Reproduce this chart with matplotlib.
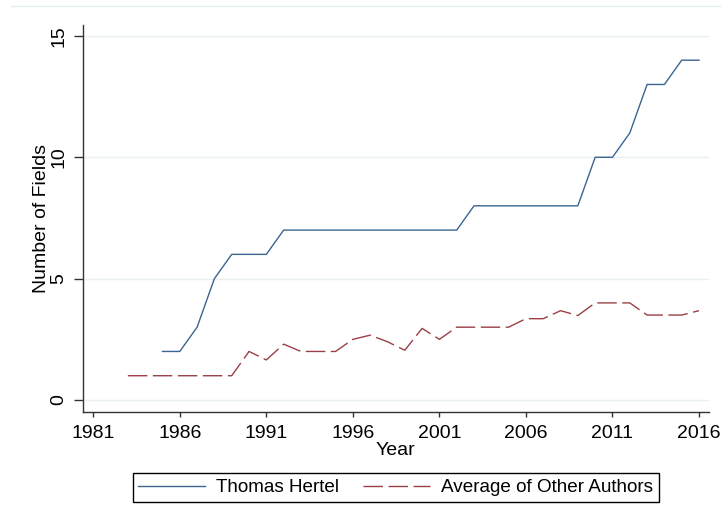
import matplotlib
matplotlib.use("Agg")
import matplotlib.pyplot as plt
from matplotlib.lines import Line2D

# data
hertel_years = list(range(1985, 2017))
hertel_fields = [2, 2, 3, 5, 6, 6, 6, 7, 7, 7, 7, 7, 7, 7, 7, 7, 7, 7,
                 8, 8, 8, 8, 8, 8, 8, 10, 10, 11, 13, 13, 14, 14]

others_years = list(range(1983, 2017))
others_fields = [1, 1, 1, 1, 1, 1, 1, 2.0, 1.65, 2.3, 2.0, 2.0, 2.0, 2.5,
                 2.67, 2.4, 2.05, 2.95, 2.5, 3.0, 3.0, 3.0, 3.0, 3.35, 3.35,
                 3.68, 3.48, 4.0, 4.0, 4.0, 3.5, 3.5, 3.5, 3.68]

x_ticks = [1981, 1986, 1991, 1996, 2001, 2006, 2011, 2016]
y_ticks = [0, 5, 10, 15]

plt.rcParams["font.family"] = ["Liberation Sans", "DejaVu Sans"]

W, H = 722, 527
fig = plt.figure(figsize=(W / 100, H / 100), dpi=100)
ax = fig.add_axes([82.7 / W, 1 - 412.3 / H, 626 / W, (412.3 - 25) / H])

ax.plot(hertel_years, hertel_fields, color="#3a6591", lw=1.0,
        label="Thomas Hertel")
ax.plot(others_years, others_fields, color="#9a3f45", lw=1.0,
        dashes=(14, 4), label="Average of Other Authors")

ax.set_xlim(1980.39, 2016.56)
ax.set_ylim(-0.507, 15.45)
ax.set_xticks(x_ticks)
ax.set_yticks(y_ticks)
ax.set_yticklabels([str(v) for v in y_ticks], rotation=90, va="center")

for s in ["top", "right"]:
    ax.spines[s].set_visible(False)
for s in ["left", "bottom"]:
    ax.spines[s].set_color("#333333")
    ax.spines[s].set_linewidth(1.0)

ax.tick_params(axis="x", length=3.8, width=1.0, color="#333333",
               labelsize=14, pad=5)
ax.tick_params(axis="y", length=6.3, width=1.0, color="#333333",
               labelsize=14, pad=5)

ax.grid(True, axis="y", color="#e8f0f2", lw=1.0)
ax.set_axisbelow(True)

ax.set_xlabel("Year", fontsize=14, labelpad=0)
ax.set_ylabel("Number of Fields", fontsize=14)
ax.yaxis.set_label_coords(-0.053, 0.5)

leg = ax.legend(loc="center", bbox_to_anchor=(395.7 / W, 1 - 487.5 / H),
                bbox_transform=fig.transFigure, ncol=2, frameon=True,
                fancybox=False, edgecolor="black", framealpha=1,
                fontsize=13.6, handlelength=3.5, handletextpad=0.6,
                columnspacing=1.3, borderpad=0.3)
leg.get_frame().set_linewidth(1.0)

# faint outer border line at the top of the graph region
fig.add_artist(Line2D([11 / W, 1], [1 - 5.7 / H] * 2,
                      transform=fig.transFigure, color="#e6eef2", lw=1))

fig.savefig("out.png", dpi=100)
